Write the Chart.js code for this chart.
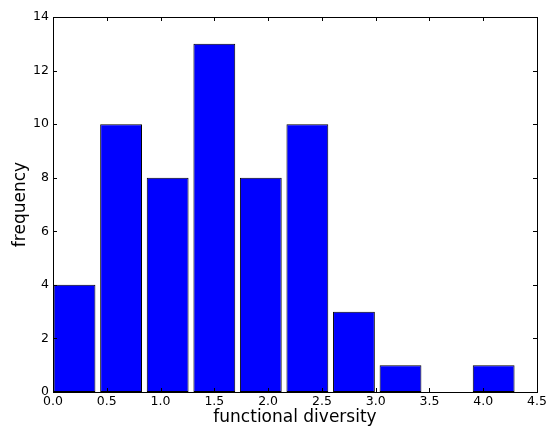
<!DOCTYPE html>
<html>
<head>
<meta charset="utf-8">
<script src="https://cdn.jsdelivr.net/npm/chart.js@4.4.0/dist/chart.umd.min.js"></script>
<style>
html,body{margin:0;padding:0;background:#fff;}
canvas{display:block;}
</style>
</head>
<body>
<canvas id="c" width="550" height="427"></canvas>
<script>
// Histogram bins (centres, in functional-diversity units) and counts
const binCenters = [0.2, 0.633, 1.066, 1.5, 1.932, 2.365, 2.798, 3.231, 3.664, 4.097];
const frequencies = [4, 10, 8, 13, 8, 10, 3, 1, 0, 1];
const xTickValues = [0, 0.5, 1, 1.5, 2, 2.5, 3, 3.5, 4, 4.5];
const yTickValues = [0, 2, 4, 6, 8, 10, 12, 14];
const xTitle = 'functional diversity';
const yTitle = 'frequency';

const FONT = 'DejaVu Sans';

const insideTicks = {
  id: 'insideTicks',
  afterDraw(chart) {
    const {ctx, chartArea: a, scales: {x, y}} = chart;
    const L = 4;
    ctx.save();
    ctx.strokeStyle = '#000';
    ctx.lineWidth = 1;
    ctx.beginPath();
    x.ticks.forEach(t => {
      const px = Math.round(x.getPixelForValue(t.value)) + 0.5;
      ctx.moveTo(px, a.bottom); ctx.lineTo(px, a.bottom - L);
      ctx.moveTo(px, a.top); ctx.lineTo(px, a.top + L);
    });
    y.ticks.forEach(t => {
      const py = Math.round(y.getPixelForValue(t.value)) + 0.5;
      ctx.moveTo(a.left, py); ctx.lineTo(a.left + L, py);
      ctx.moveTo(a.right, py); ctx.lineTo(a.right - L, py);
    });
    ctx.stroke();
    ctx.strokeRect(Math.round(a.left) + 0.5, Math.round(a.top) + 0.5,
                   Math.round(a.right - a.left), Math.round(a.bottom - a.top));
    ctx.restore();
  }
};

new Chart(document.getElementById('c'), {
  type: 'bar',
  data: {
    datasets: [{
      data: binCenters.map((c, i) => ({x: c, y: frequencies[i]})),
      backgroundColor: '#0000ff',
      borderColor: '#000000',
      borderWidth: 1,
      borderSkipped: false,
      barPercentage: 0.9,
      categoryPercentage: 1.0
    }]
  },
  options: {
    responsive: false,
    devicePixelRatio: 1,
    animation: false,
    events: [],
    layout: {padding: {top: 17, right: 13, left: 0, bottom: 0}},
    plugins: {legend: {display: false}, tooltip: {enabled: false}},
    scales: {
      x: {
        type: 'linear',
        offset: false,
        min: 0, max: 4.5,
        afterBuildTicks(s) { s.ticks = xTickValues.map(v => ({value: v})); },
        afterFit(s) { s.height = 35; },
        grid: {display: false, drawTicks: false},
        border: {display: false},
        ticks: {
          padding: 2, maxRotation: 0, autoSkip: false,
          color: '#000', font: {family: FONT, size: 12.5},
          callback: v => v.toFixed(1)
        },
        title: {display: true, text: xTitle, color: '#000',
                font: {family: FONT, size: 17, lineHeight: 1.2}, padding: {top: 0, bottom: -1}}
      },
      y: {
        min: 0, max: 14,
        afterBuildTicks(s) { s.ticks = yTickValues.map(v => ({value: v})); },
        afterFit(s) { s.width = 53; },
        grid: {display: false, drawTicks: false},
        border: {display: false},
        ticks: {
          padding: 4, autoSkip: false,
          color: '#000', font: {family: FONT, size: 12.5},
          callback: v => String(v)
        },
        title: {display: true, text: yTitle, color: '#000',
                font: {family: FONT, size: 17, lineHeight: 1.2}, padding: {top: 10, bottom: 0}}
      }
    }
  },
  plugins: [insideTicks]
});
</script>
</body>
</html>
